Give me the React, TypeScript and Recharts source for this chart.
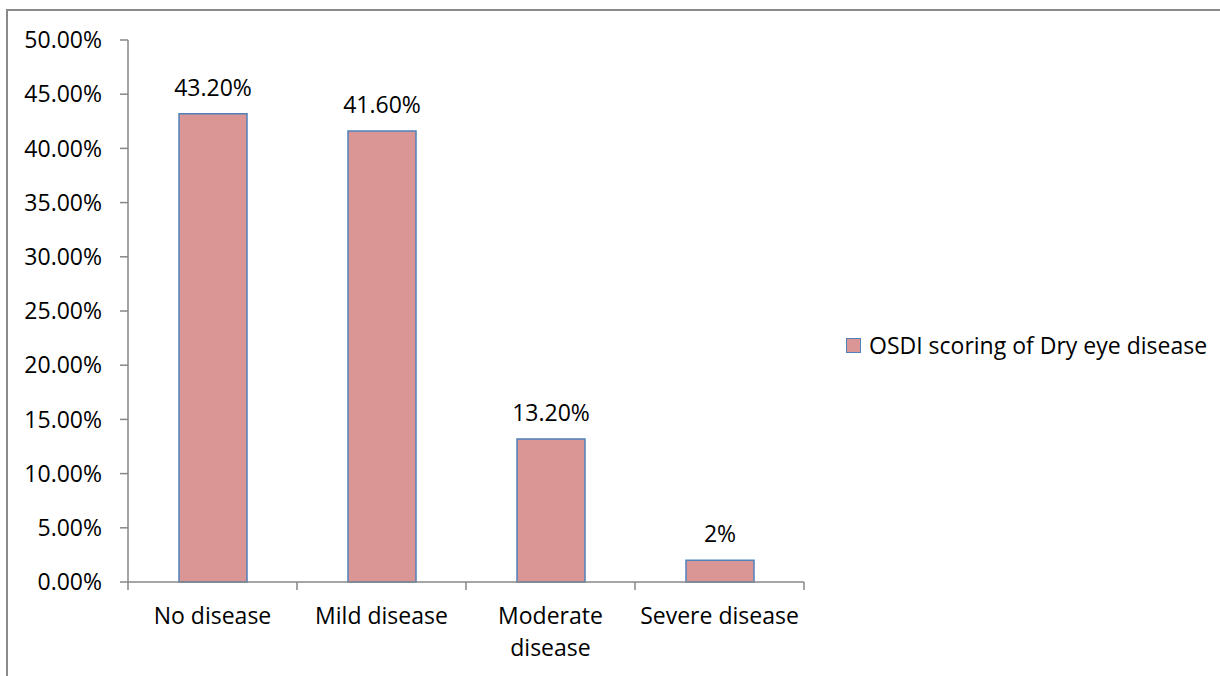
import React from "react";
import {
  BarChart,
  Bar,
  XAxis,
  YAxis,
  Legend,
  LabelList,
} from "recharts";

const categories = ["No disease", "Mild disease", "Moderate disease", "Severe disease"];
const osdiValues = [43.2, 41.6, 13.2, 2];
const valueLabels = ["43.20%", "41.60%", "13.20%", "2%"];
const yTicks = [0, 5, 10, 15, 20, 25, 30, 35, 40, 45, 50];
const seriesName = "OSDI scoring of Dry eye disease";

const FONT = "'Open Sans', sans-serif";
const FONT_SIZE = 23;
const AXIS = "#878787";
const FILL = "#D99694";
const EDGE = "#4F81BD";

const data = categories.map((name, i) => ({
  name,
  value: osdiValues[i],
  label: valueLabels[i],
}));

// long names go on two lines, like the wrapped category labels
const splitName = (name: string): string[] => {
  if (name.length <= 14) return [name];
  const cut = name.lastIndexOf(" ");
  return [name.slice(0, cut), name.slice(cut + 1)];
};

// category ticks: text under the band centre, tick marks on the band edges
const CategoryTick = (props: any) => {
  const { x, y, payload, index, visibleTicksCount } = props;
  const half = payload.offset ?? 84.5;
  const axisY = y - 26;
  const isLast = index === visibleTicksCount - 1;
  const lines = splitName(String(payload.value));
  return (
    <g>
      <line x1={x - half} x2={x - half} y1={axisY} y2={axisY + 8} stroke={AXIS} strokeWidth={1.5} />
      {isLast && (
        <line x1={x + half} x2={x + half} y1={axisY} y2={axisY + 8} stroke={AXIS} strokeWidth={1.5} />
      )}
      <text
        x={x}
        y={y + 16}
        textAnchor="middle"
        fill="#000"
        style={{ fontFamily: FONT, fontSize: FONT_SIZE }}
      >
        {lines.map((ln, i) => (
          <tspan key={ln} x={x} dy={i === 0 ? 0 : 32}>
            {ln}
          </tspan>
        ))}
      </text>
    </g>
  );
};

const LegendBox = () => (
  <div style={{ display: "flex", alignItems: "center", fontFamily: FONT, fontSize: FONT_SIZE, color: "#000" }}>
    <span
      style={{
        display: "inline-block",
        width: 13,
        height: 13,
        background: FILL,
        border: `1.5px solid ${EDGE}`,
        marginRight: 8,
      }}
    />
    <span>{seriesName}</span>
  </div>
);

export default function App() {
  return (
    <div
      style={{
        position: "absolute",
        left: 0,
        top: 0,
        width: 1220,
        height: 676,
        overflow: "hidden",
        background: "#fff",
        fontFamily: FONT,
      }}
    >
      <div
        style={{
          position: "absolute",
          left: 6,
          top: 9,
          width: 1300,
          height: 720,
          border: "2px solid #8a8a8a",
        }}
      />
      <div style={{ position: "absolute", left: 0, top: 0 }}>
        <BarChart
          width={1220}
          height={676}
          data={data}
          margin={{ top: 40, right: 416, bottom: 34, left: 28 }}
        >
          <XAxis
            dataKey="name"
            height={60}
            axisLine={{ stroke: AXIS, strokeWidth: 1.5 }}
            tickLine={false}
            tickSize={8}
            tickMargin={18}
            interval={0}
            tick={<CategoryTick />}
          />
          <YAxis
            width={100}
            domain={[0, 50]}
            ticks={yTicks}
            interval={0}
            axisLine={{ stroke: AXIS, strokeWidth: 1.5 }}
            tickLine={{ stroke: AXIS, strokeWidth: 1.5 }}
            tickSize={8}
            tickMargin={18}
            tickFormatter={(v: number) => `${v.toFixed(2)}%`}
            tick={{ fill: "#000", fontSize: FONT_SIZE, fontFamily: FONT }}
          />
          <Legend
            layout="vertical"
            align="center"
            verticalAlign="middle"
            wrapperStyle={{ left: 846, top: 329, width: 374 }}
            content={<LegendBox />}
          />
          <Bar
            dataKey="value"
            name={seriesName}
            fill={FILL}
            stroke={EDGE}
            strokeWidth={1.5}
            barSize={68}
            isAnimationActive={false}
          >
            <LabelList
              dataKey="label"
              position="top"
              offset={18}
              fill="#000"
              style={{ fontSize: FONT_SIZE, fontFamily: FONT }}
            />
          </Bar>
        </BarChart>
      </div>
    </div>
  );
}
